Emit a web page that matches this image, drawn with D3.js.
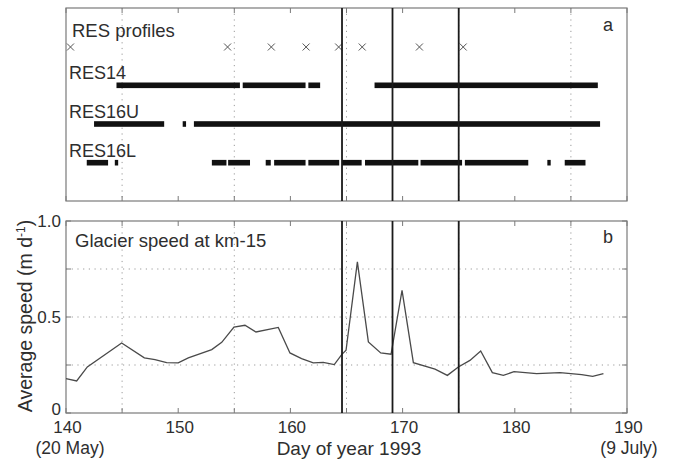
<!DOCTYPE html>
<html><head><meta charset="utf-8">
<script src="https://cdn.jsdelivr.net/npm/d3@7"></script>
<style>
body{margin:0;background:#fff;}
svg{display:block;font-family:"Liberation Sans",Arial,sans-serif;}
</style></head>
<body><svg id="c" width="673" height="461"></svg>
<script>
// ---------- data ----------
const xTicks = [140,150,160,170,180,190];
const xMinor = [145,155,165,175,185];
const yTicks = [0,0.5,1.0];
const yTickLabels = ["0","0.5","1.0"];
const yMinor = [0.25,0.75];
const eventDays = [164.6,169.1,175.0];
const profileDays = [140.4,154.4,158.3,161.4,164.3,166.4,171.5,175.4];
const rowNames = ["RES14","RES16U","RES16L"];
const res14 = [[144.5,155.5],[155.75,161.35],[161.6,162.65],[167.5,187.4]];
const res16U = [[142.5,148.75],[150.4,150.7],[151.4,187.6]];
const res16L = [[141.85,143.75],[144.35,144.65],[153.0,154.3],[154.45,156.4],[157.8,158.25],[158.55,161.35],[161.6,164.35],[164.6,166.35],[166.65,171.4],[171.6,175.3],[175.55,181.2],[182.9,183.2],[184.45,186.3]];
const speedDays = [140.0,140.95,141.9,144.96,146.98,147.93,148.97,150.0,150.9,152.99,153.88,154.97,155.95,156.93,158.92,159.96,161.0,162.04,162.93,163.91,164.57,164.96,165.97,166.95,168.05,168.97,169.95,170.96,172.89,173.99,174.97,176.0,176.96,178.0,178.98,179.93,181.95,184.03,185.96,186.94,187.9];
const speedVals = [0.179,0.167,0.240,0.365,0.287,0.278,0.262,0.261,0.287,0.330,0.368,0.448,0.457,0.422,0.446,0.313,0.283,0.261,0.264,0.252,0.304,0.327,0.787,0.370,0.313,0.306,0.639,0.262,0.228,0.196,0.240,0.274,0.323,0.210,0.196,0.215,0.205,0.210,0.200,0.191,0.205];

// ---------- layout ----------
const svg = d3.select("#c");
const L = 66, R = 627;
const topA = 8, botA = 201, topB = 221, botB = 413;
const x = d3.scaleLinear().domain([140,190]).range([L,R]);
const yB = d3.scaleLinear().domain([0,1]).range([botB,topB]);
const rowY = d3.scalePoint().domain(rowNames).range([85.3,162.7]);
const frameCol = "#7a7a7a", textCol = "#2e2e2e", gridCol = "#9a9a9a";
const allX = xTicks.concat(xMinor);

function grid(g, y0, y1){
  g.selectAll("line.vg").data(xMinor).join("line")
    .attr("x1",d=>x(d)).attr("x2",d=>x(d)).attr("y1",y0).attr("y2",y1)
    .attr("stroke",gridCol).attr("stroke-width",1).attr("stroke-dasharray","1.2,4.5");
}
function frame(g, y0, y1){
  g.append("rect").attr("x",L).attr("y",y0).attr("width",R-L).attr("height",y1-y0)
    .attr("fill","none").attr("stroke",frameCol).attr("stroke-width",1.2);
  g.selectAll("line.tb").data(allX).join("line").attr("class","tb")
    .attr("x1",d=>x(d)).attr("x2",d=>x(d)).attr("y1",y1).attr("y2",y1-5)
    .attr("stroke",frameCol);
  g.selectAll("line.tt").data(allX).join("line").attr("class","tt")
    .attr("x1",d=>x(d)).attr("x2",d=>x(d)).attr("y1",y0).attr("y2",y0+5)
    .attr("stroke",frameCol);
}

// ---------- panel a ----------
const gA = svg.append("g");
grid(gA, topA, botA);
frame(gA, topA, botA);
gA.append("text").attr("x",72).attr("y",37).attr("fill",textCol).attr("font-size",18.5).text("RES profiles");
gA.append("text").attr("x",603).attr("y",31).attr("fill",textCol).attr("font-size",18).text("a");
const cs = 3.5;
gA.selectAll("path.cross").data(profileDays).join("path")
  .attr("d",d=>`M${x(d)-cs},${47-cs}L${x(d)+cs},${47+cs}M${x(d)-cs},${47+cs}L${x(d)+cs},${47-cs}`)
  .attr("stroke","#555").attr("stroke-width",1);
const rows = [res14,res16U,res16L];
rowNames.forEach((name,i)=>{
  gA.append("text").attr("x",69).attr("y",rowY(name)-6).attr("fill",textCol).attr("font-size",18).text(name);
  gA.selectAll("rect.r"+i).data(rows[i]).join("rect").attr("class","r"+i)
    .attr("x",d=>x(d[0])).attr("width",d=>x(d[1])-x(d[0]))
    .attr("y",rowY(name)-2.8).attr("height",5.6).attr("fill","#111");
});

// ---------- panel b ----------
const gB = svg.append("g");
grid(gB, topB, botB);
gB.selectAll("line.hg").data([0.25,0.5,0.75]).join("line")
  .attr("x1",L).attr("x2",R).attr("y1",d=>yB(d)).attr("y2",d=>yB(d))
  .attr("stroke",gridCol).attr("stroke-dasharray","1.2,4.5");
frame(gB, topB, botB);
const allY = yTicks.concat(yMinor);
gB.selectAll("line.yl").data(allY).join("line")
  .attr("x1",L).attr("x2",L+5).attr("y1",d=>yB(d)).attr("y2",d=>yB(d)).attr("stroke",frameCol);
gB.selectAll("line.yr").data(allY).join("line")
  .attr("x1",R).attr("x2",R-5).attr("y1",d=>yB(d)).attr("y2",d=>yB(d)).attr("stroke",frameCol);
gB.selectAll("text.yt").data(yTicks).join("text")
  .attr("x",L-5).attr("y",d=>yB(d)+(d===0?2:6)).attr("text-anchor","end")
  .attr("fill",textCol).attr("font-size",17).text((d,i)=>yTickLabels[i]);
gB.append("text").attr("x",75).attr("y",246.5).attr("fill",textCol).attr("font-size",18.5).text("Glacier speed at km-15");
gB.append("text").attr("x",603).attr("y",243).attr("fill",textCol).attr("font-size",18).text("b");
const line = d3.line().x((d,i)=>x(speedDays[i])).y(d=>yB(d));
gB.append("path").datum(speedVals).attr("d",line).attr("fill","none")
  .attr("stroke","#4a4a4a").attr("stroke-width",1.3);

// x tick labels
svg.selectAll("text.xt").data(xTicks).join("text")
  .attr("x",d=>x(d)+1.5).attr("y",433).attr("text-anchor","middle")
  .attr("fill",textCol).attr("font-size",17).text(d=>d);
svg.append("text").attr("x",x(140)+4).attr("y",453.5).attr("text-anchor","middle").attr("fill",textCol).attr("font-size",17.5).text("(20 May)");
svg.append("text").attr("x",x(190)+2).attr("y",453.5).attr("text-anchor","middle").attr("fill",textCol).attr("font-size",17.5).text("(9 July)");
svg.append("text").attr("x",349).attr("y",454.5).attr("text-anchor","middle").attr("fill",textCol).attr("font-size",19).text("Day of year 1993");
// y label
const yl = svg.append("text").attr("transform","translate(32,316) rotate(-90)").attr("text-anchor","middle")
  .attr("fill",textCol).attr("font-size",19.5);
yl.append("tspan").text("Average speed (m d");
yl.append("tspan").attr("dy",-7).attr("font-size",12).text("-1");
yl.append("tspan").attr("dy",7).text(")");

// event lines across both panels
[[topA,botA],[topB,botB]].forEach(([a,b])=>{
  svg.selectAll(null).data(eventDays).join("line")
    .attr("x1",d=>x(d)).attr("x2",d=>x(d)).attr("y1",a).attr("y2",b)
    .attr("stroke","#1a1a1a").attr("stroke-width",1.8);
});
</script></body></html>
